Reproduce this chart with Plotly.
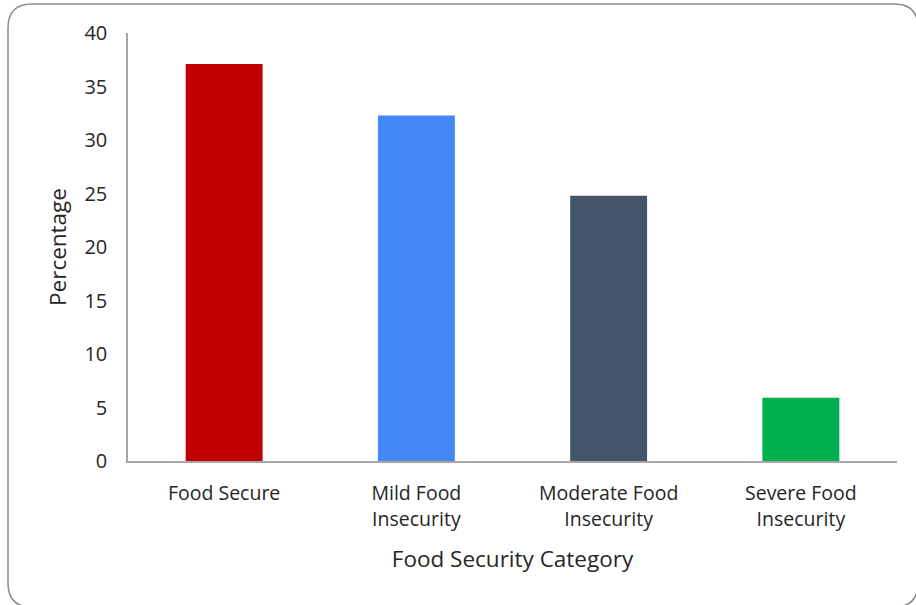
import plotly.graph_objects as go

categories = ["Food Secure", "Mild Food<br>Insecurity", "Moderate Food<br>Insecurity", "Severe Food<br>Insecurity"]
values = [37.1, 32.3, 24.8, 5.9]
colors = ["#C00000", "#4488F6", "#44546A", "#00B050"]
y_ticks = [0, 5, 10, 15, 20, 25, 30, 35, 40]

W, H = 916, 605
L, R, T, B = 128, 19, 33, 144
pw, ph = W - L - R, H - T - B

def px(x):
    return (x - L) / pw

def py(y):
    return (H - B - y) / ph

# rounded border path in paper coords
x0, x1, y0, y1, r = 8, 918, 4, 607, 24
path = (
    f"M {px(x0 + r)} {py(y0)} L {px(x1 - r)} {py(y0)} "
    f"Q {px(x1)} {py(y0)} {px(x1)} {py(y0 + r)} "
    f"L {px(x1)} {py(y1 - r)} Q {px(x1)} {py(y1)} {px(x1 - r)} {py(y1)} "
    f"L {px(x0 + r)} {py(y1)} Q {px(x0)} {py(y1)} {px(x0)} {py(y1 - r)} "
    f"L {px(x0)} {py(y0 + r)} Q {px(x0)} {py(y0)} {px(x0 + r)} {py(y0)} Z"
)

font = "Open Sans, Liberation Sans, sans-serif"

fig = go.Figure(
    go.Bar(x=categories, y=values, marker=dict(color=colors, line=dict(width=0)), width=0.4)
)
fig.update_layout(
    width=W, height=H,
    margin=dict(l=L, r=R, t=T, b=B, pad=0),
    paper_bgcolor="white", plot_bgcolor="white",
    showlegend=False,
    font=dict(family=font, color="#262626", size=19),
    shapes=[dict(type="path", xref="paper", yref="paper", path=path,
                 line=dict(color="#8C8C8C", width=1.5), layer="below")],
)
fig.update_xaxes(
    showline=True, linecolor="#A6A6A6", linewidth=1.5, showgrid=False,
    ticks="", ticklabelstandoff=14,
    tickfont=dict(size=19.5, family=font, color="#262626"),
    title=dict(text="Food Security Category", font=dict(size=22.5, family=font, color="#262626"), standoff=21),
)
fig.update_yaxes(
    range=[0, 40], tickvals=y_ticks, showline=True, linecolor="#A6A6A6", linewidth=1.5,
    showgrid=False, zeroline=False, ticks="", ticklabelstandoff=15,
    tickfont=dict(size=20, family=font, color="#262626"),
    title=dict(text="Percentage", font=dict(size=22.5, family=font, color="#262626"), standoff=12),
)
fig.write_html("out.html")
